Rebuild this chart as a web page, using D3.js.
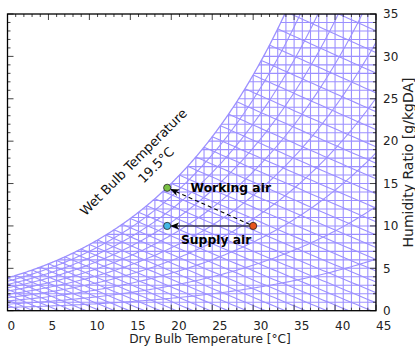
<!DOCTYPE html>
<html>
<head>
<meta charset="utf-8">
<script src="https://cdn.jsdelivr.net/npm/d3@7"></script>
<style>
  body { margin: 0; background: #fff; }
  svg { display: block; font-family: "DejaVu Sans", sans-serif; }
</style>
</head>
<body>
<svg id="chart" width="415" height="353"></svg>
<script>
// Axis ticks
const tempTicks = [0, 5, 10, 15, 20, 25, 30, 35, 40, 45];
const humTicks = [0, 5, 10, 15, 20, 25, 30, 35];

// Psychrometric grid steps
const dryBulbGrid = d3.range(0, 46, 1);        // °C
const humidityGrid = d3.range(1, 36, 1);       // g/kgDA
const wetBulbGrid = d3.range(-12, 41, 1);      // °C
const rhGrid = [0.1, 0.2, 0.3, 0.4, 0.5, 0.6, 0.7, 0.8, 0.9];

// Air states
const stateNames = ["Supply air", "Working air", "Outdoor air"];
const stateTemp = [19.5, 19.5, 30];
const stateHum = [10, 14.5, 10];
const stateColor = ["#45b8e6", "#7ac143", "#e8541e"];
const wetBulbValue = "19.5\u00b0C";

const P = 99.0; // kPa, chart pressure
const gridColor = "#9c90ff";

const svg = d3.select("#chart");
const m = { left: 7.5, right: 376, top: 14, bottom: 310.7 };
const x = d3.scaleLinear().domain([0, 45]).range([m.left, m.right]);
const y = d3.scaleLinear().domain([0, 35]).range([m.bottom, m.top]);

// Psychrometric relations
const psat = T => 0.61094 * Math.exp(17.625 * T / (T + 243.04));
const wAt = pw => 622 * pw / (P - pw);
const wsat = T => wAt(psat(T));
const dewPoint = w => {
  const pw = w * P / (622 + w);
  const g = Math.log(pw / 0.61094);
  return 243.04 * g / (17.625 - g);
};
const wetBulbW = (T, tw) => {
  const wsw = wsat(tw) / 1000;
  return 1000 * ((2501 - 2.326 * tw) * wsw - 1.006 * (T - tw)) / (2501 + 1.86 * T - 4.186 * tw);
};

const defs = svg.append("defs");
defs.append("clipPath").attr("id", "plotClip")
  .append("rect").attr("x", m.left).attr("y", m.top)
  .attr("width", m.right - m.left).attr("height", m.bottom - m.top);
defs.append("marker").attr("id", "arrow").attr("viewBox", "0 0 10 10")
  .attr("refX", 9).attr("refY", 5).attr("markerWidth", 9).attr("markerHeight", 9)
  .attr("markerUnits", "userSpaceOnUse").attr("orient", "auto")
  .append("path").attr("d", "M0,1 L10,5 L0,9 L3,5 Z").attr("fill", "#000");

const line = d3.line().x(d => x(d[0])).y(d => y(d[1]));
const grid = svg.append("g").attr("clip-path", "url(#plotClip)")
  .attr("fill", "none").attr("stroke", gridColor).attr("stroke-width", 1.1);

// Dry bulb verticals
grid.selectAll(".db").data(dryBulbGrid).join("path")
  .attr("d", t => line([[t, 0], [t, Math.min(wsat(t), 36)]]));

// Humidity ratio horizontals
grid.selectAll(".hr").data(humidityGrid).join("path")
  .attr("d", w => line([[Math.max(0, dewPoint(w)), w], [45, w]]));

// Wet bulb lines
grid.selectAll(".wb").data(wetBulbGrid).join("path")
  .attr("d", tw => {
    const pts = [];
    for (let T = tw; T <= 45.01; T += 0.5) {
      const w = wetBulbW(T, tw);
      if (w < 0) {
        const prev = pts[pts.length - 1];
        if (prev) {
          const f = prev[1] / (prev[1] - w);
          pts.push([prev[0] + f * (T - prev[0]), 0]);
        }
        break;
      }
      pts.push([T, w]);
    }
    return pts.length > 1 ? line(pts) : null;
  });

// Relative humidity curves
grid.selectAll(".rh").data(rhGrid).join("path")
  .attr("d", rh => {
    const pts = [];
    for (let T = 0; T <= 45.01; T += 0.25) {
      const w = wAt(rh * psat(T));
      pts.push([T, w]);
      if (w > 36) break;
    }
    return line(pts);
  });

// Saturation curve
const satPts = [];
for (let T = 0; T <= 36; T += 0.1) satPts.push([T, wsat(T)]);
grid.append("path").attr("d", line(satPts)).attr("stroke-width", 1.3);

// Frame ticks (inward, all sides)
const tickG = svg.append("g").attr("stroke", "#444").attr("stroke-width", 1);
d3.range(0, 46).forEach(t => {
  const len = t % 5 === 0 ? 6 : 3;
  tickG.append("line").attr("x1", x(t)).attr("x2", x(t)).attr("y1", m.top).attr("y2", m.top + len);
  tickG.append("line").attr("x1", x(t)).attr("x2", x(t)).attr("y1", m.bottom).attr("y2", m.bottom - len);
});
d3.range(0, 36).forEach(w => {
  const len = w % 5 === 0 ? 6 : 3;
  tickG.append("line").attr("y1", y(w)).attr("y2", y(w)).attr("x1", m.left).attr("x2", m.left + len);
  tickG.append("line").attr("y1", y(w)).attr("y2", y(w)).attr("x1", m.right).attr("x2", m.right - len);
});

svg.append("rect").attr("x", m.left).attr("y", m.top)
  .attr("width", m.right - m.left).attr("height", m.bottom - m.top)
  .attr("fill", "none").attr("stroke", "#000").attr("stroke-width", 1.3);

// Tick labels
svg.append("g").selectAll("text").data(tempTicks).join("text")
  .attr("x", d => x(d)).attr("y", 330).attr("font-size", 12).attr("fill", "#222")
  .text(d => d);
svg.append("g").selectAll("text").data(humTicks).join("text")
  .attr("x", 383).attr("y", d => y(d)).attr("dy", "0.36em").attr("font-size", 12).attr("fill", "#222")
  .text(d => d);

// Axis titles
svg.append("text").attr("x", 210).attr("y", 343).attr("text-anchor", "middle")
  .attr("font-size", 12.2).attr("fill", "#222").text("Dry Bulb Temperature [\u00b0C]");
svg.append("text").attr("transform", "translate(413,162.5) rotate(-90)").attr("text-anchor", "middle")
  .attr("font-size", 14).attr("fill", "#222").text("Humidity Ratio [g/kgDA]");

// Wet bulb annotation
svg.append("text").attr("transform", "translate(133.5,162) rotate(-45)")
  .attr("text-anchor", "middle").attr("dy", "0.35em").attr("font-size", 13).attr("fill", "#111")
  .text("Wet Bulb Temperature");
svg.append("text").attr("transform", "translate(156,165) rotate(-45)")
  .attr("text-anchor", "middle").attr("dy", "0.35em").attr("font-size", 13).attr("fill", "#111")
  .text(wetBulbValue);

// Process arrows from outdoor air to supply (sensible) and working (saturated) states
const r = 3.6;
function arrowTo(i, j, dashed) {
  const x0 = x(stateTemp[i]), y0 = y(stateHum[i]);
  const x1 = x(stateTemp[j]), y1 = y(stateHum[j]);
  const L = Math.hypot(x1 - x0, y1 - y0);
  const ux = (x1 - x0) / L, uy = (y1 - y0) / L;
  svg.append("line")
    .attr("x1", x0 + ux * r).attr("y1", y0 + uy * r)
    .attr("x2", x1 - ux * (r + 0.5)).attr("y2", y1 - uy * (r + 0.5))
    .attr("stroke", "#000").attr("stroke-width", 1.1)
    .attr("stroke-dasharray", dashed ? "4,3" : null)
    .attr("marker-end", "url(#arrow)");
}
arrowTo(2, 0, false);
arrowTo(2, 1, true);

svg.append("g").selectAll("circle").data(stateNames).join("circle")
  .attr("cx", (d, i) => x(stateTemp[i])).attr("cy", (d, i) => y(stateHum[i]))
  .attr("r", r).attr("fill", (d, i) => stateColor[i])
  .attr("stroke", "#222").attr("stroke-width", 0.8);

svg.append("text").attr("x", 190.5).attr("y", 191.5).attr("font-size", 12.3).attr("font-weight", "bold")
  .attr("fill", "#000").text(stateNames[1]);
svg.append("text").attr("x", 181).attr("y", 244).attr("font-size", 12.3).attr("font-weight", "bold")
  .attr("fill", "#000").text(stateNames[0]);
</script>
</body>
</html>
